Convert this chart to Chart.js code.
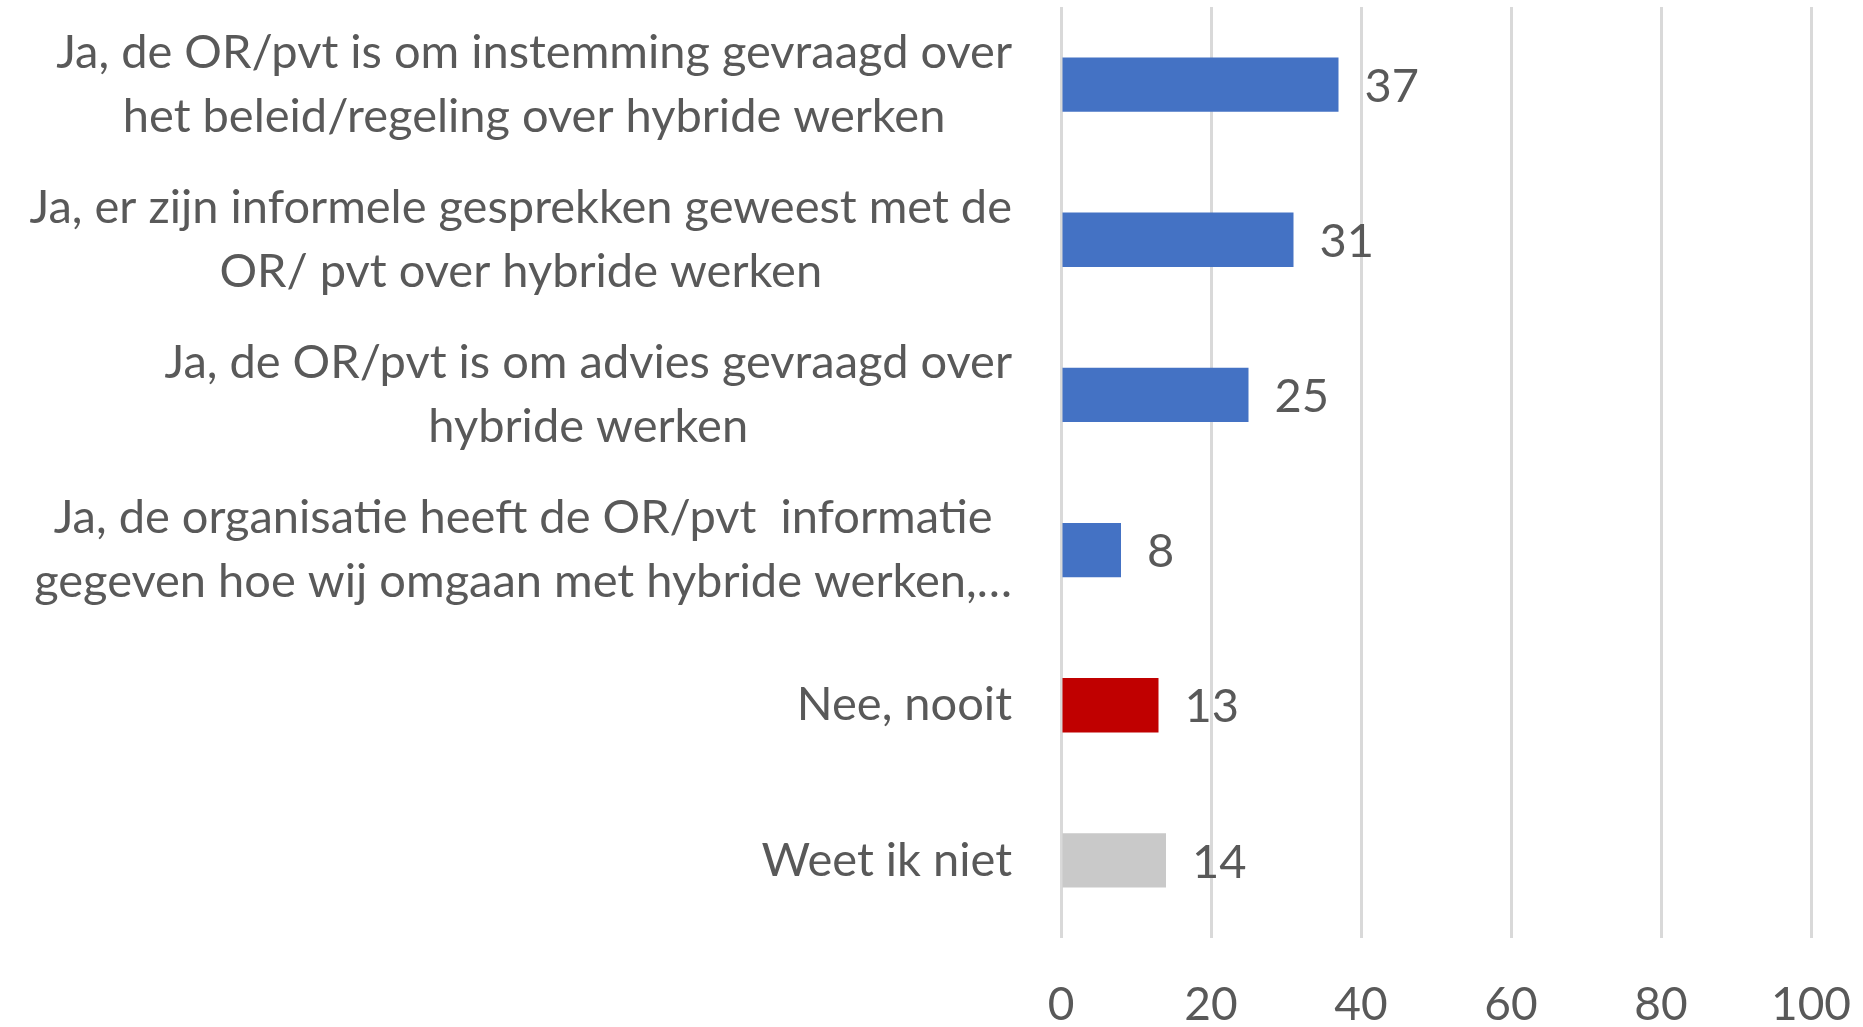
<!DOCTYPE html>
<html>
<head>
<meta charset="utf-8">
<script src="https://cdn.jsdelivr.net/npm/chart.js@4/dist/chart.umd.min.js"></script>
<style>
  html, body { margin: 0; padding: 0; background: #fff; }
  #wrap { width: 1863px; height: 1027px; }
</style>
</head>
<body>
<div id="wrap"><canvas id="chartOR"></canvas></div>
<script>
// antwoorden (categorieen), van boven naar beneden
const categories = [
  ['Ja, de OR/pvt is om instemming gevraagd over', 'het beleid/regeling over hybride werken'],
  ['Ja, er zijn informele gesprekken geweest met de', 'OR/ pvt over hybride werken'],
  ['Ja, de OR/pvt is om advies gevraagd over', 'hybride werken'],
  ['Ja, de organisatie heeft de OR/pvt  informatie', 'gegeven hoe wij omgaan met hybride werken,\u2026'],
  ['Nee, nooit'],
  ['Weet ik niet']
];
const values = [37, 31, 25, 8, 13, 14];
const barColors = ['#4472C4', '#4472C4', '#4472C4', '#4472C4', '#C00000', '#C9C9C9'];
const xTicks = [0, 20, 40, 60, 80, 100];

const FONT = 'Lato, "Noto Sans", sans-serif';
const TEXT = '#595959';

// categorie labels links van de as, regels gecentreerd, blok rechts uitgelijnd
const catLabels = {
  id: 'catLabels',
  afterDraw(chart) {
    const ctx = chart.ctx;
    const yScale = chart.scales.y;
    const right = 1012;
    const lineH = 64;
    ctx.save();
    ctx.font = '47px ' + FONT;
    ctx.fillStyle = TEXT;
    ctx.textAlign = 'center';
    ctx.textBaseline = 'middle';
    categories.forEach((lines, i) => {
      const y = yScale.getPixelForValue(i);
      const w = Math.max(...lines.map(l => ctx.measureText(l).width));
      const cx = right - w / 2;
      const top = y - (lines.length - 1) * lineH / 2;
      lines.forEach((l, j) => ctx.fillText(l, cx, top + j * lineH));
    });
    ctx.restore();
  }
};

// waarden rechts van de balken
const valueLabels = {
  id: 'valueLabels',
  afterDatasetsDraw(chart) {
    const ctx = chart.ctx;
    const meta = chart.getDatasetMeta(0);
    ctx.save();
    ctx.font = '47px ' + FONT;
    ctx.fillStyle = TEXT;
    ctx.textAlign = 'left';
    ctx.textBaseline = 'middle';
    meta.data.forEach((bar, i) => {
      ctx.fillText(String(values[i]), bar.x + 26, bar.y + 2);
    });
    ctx.restore();
  }
};

const ctx1 = document.getElementById('chartOR');

const data = {
  labels: categories,
  datasets: [{
    data: values,
    backgroundColor: barColors,
    borderWidth: 0,
    categoryPercentage: 1,
    barPercentage: 0.35
  }]
};

const config = {
  type: 'bar',
  data: data,
  options: {
    indexAxis: 'y',
    responsive: true,
    maintainAspectRatio: false,
    animation: false,
    layout: { padding: { left: 1061, top: 7, right: 52, bottom: 0 } },
    plugins: { legend: { display: false }, tooltip: { enabled: false } },
    scales: {
      x: {
        min: 0,
        max: 100,
        afterBuildTicks(axis) { axis.ticks = xTicks.map(v => ({ value: v })); },
        afterFit(axis) {
          axis.height = 89;
          axis.paddingLeft = 0;
          axis.paddingRight = 0;
        },
        grid: { color: '#D9D9D9', lineWidth: 3, drawTicks: false },
        border: { display: false },
        ticks: {
          color: TEXT,
          font: { family: FONT, size: 46, lineHeight: 1 },
          padding: 44,
          maxRotation: 0
        }
      },
      y: {
        display: false
      }
    }
  },
  plugins: [catLabels, valueLabels]
};

new Chart(ctx1, config);
</script>
</body>
</html>
